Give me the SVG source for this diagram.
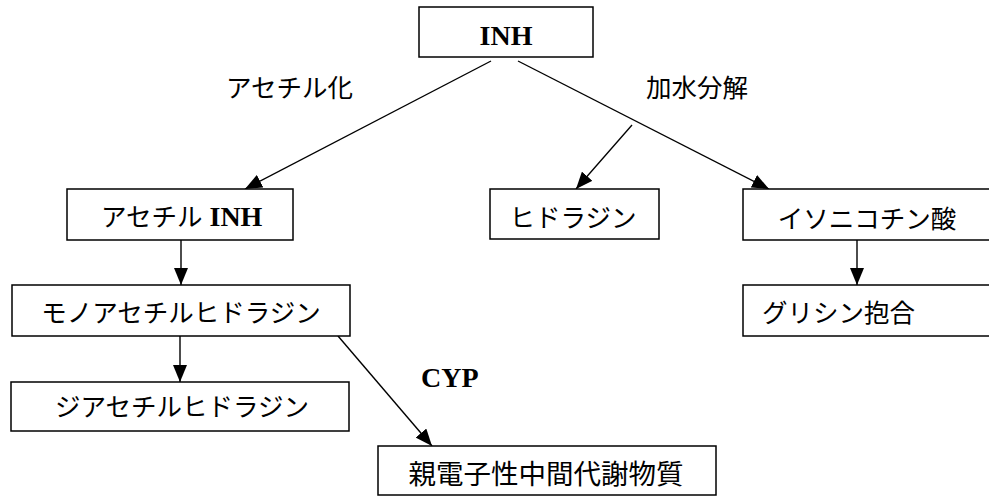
<svg xmlns="http://www.w3.org/2000/svg" width="989" height="496" viewBox="0 0 989 496">
<style>
  .box { fill: #ffffff; stroke: #000000; stroke-width: 1.5; }
  .jp { font-family: "Noto Sans CJK JP", "Noto Sans CJK SC", sans-serif; font-size: 25.5px; fill: #000000; }
  .en { font-family: "Liberation Serif", serif; font-weight: bold; font-size: 28px; fill: #000000; }
  .edge { stroke: #000000; stroke-width: 1.4; fill: none; marker-end: url(#arrow); }
</style>
<defs>
  <marker id="arrow" viewBox="0 0 17 14" refX="17" refY="7" markerWidth="17" markerHeight="14" markerUnits="userSpaceOnUse" orient="auto">
    <path d="M0,0 L17,7 L0,14 z" fill="#000000"/>
  </marker>
</defs>
<rect width="989" height="496" fill="#ffffff"/>

<g id="connectors">
  <line class="edge" x1="491" y1="61" x2="245" y2="189"/>
  <line class="edge" x1="518" y1="61" x2="769" y2="189"/>
  <line class="edge" x1="632" y1="125" x2="576" y2="189"/>
  <line class="edge" x1="181" y1="240" x2="181" y2="285"/>
  <line class="edge" x1="180" y1="336" x2="180" y2="382"/>
  <line class="edge" x1="338" y1="336" x2="432" y2="446"/>
  <line class="edge" x1="857" y1="240" x2="857" y2="285"/>
</g>

<g id="labels">
  <text class="jp" x="226" y="97">アセチル化</text>
  <text class="jp" x="646" y="97">加水分解</text>
  <text class="en" x="421" y="387">CYP</text>
</g>

<g id="node-inh">
  <rect class="box" x="419" y="7" width="174" height="50"/>
  <text class="en" x="506" y="45" text-anchor="middle">INH</text>
</g>

<g id="node-acetyl-inh">
  <rect class="box" x="67" y="189" width="226" height="51"/>
  <text x="101" y="226"><tspan class="jp">アセチル</tspan><tspan class="en" dx="7">INH</tspan></text>
</g>

<g id="node-hydrazine">
  <rect class="box" x="490" y="189" width="169" height="50"/>
  <text class="jp" x="573" y="227" text-anchor="middle">ヒドラジン</text>
</g>

<g id="node-isonicotinic">
  <rect class="box" x="743" y="189" width="260" height="51"/>
  <text class="jp" x="867" y="228" text-anchor="middle">イソニコチン酸</text>
</g>

<g id="node-monoacetylhydrazine">
  <rect class="box" x="12" y="285" width="338" height="51"/>
  <text class="jp" x="181" y="322" text-anchor="middle">モノアセチルヒドラジン</text>
</g>

<g id="node-glycine">
  <rect class="box" x="743" y="285" width="260" height="51"/>
  <text class="jp" x="762" y="322">グリシン抱合</text>
</g>

<g id="node-diacetylhydrazine">
  <rect class="box" x="11" y="382" width="338" height="49"/>
  <text class="jp" x="182" y="416" text-anchor="middle">ジアセチルヒドラジン</text>
</g>

<g id="node-electrophilic">
  <rect class="box" x="378" y="446" width="338" height="49"/>
  <text class="jp" x="546" y="484" text-anchor="middle" style="font-size:27.5px">親電子性中間代謝物質</text>
</g>
</svg>
